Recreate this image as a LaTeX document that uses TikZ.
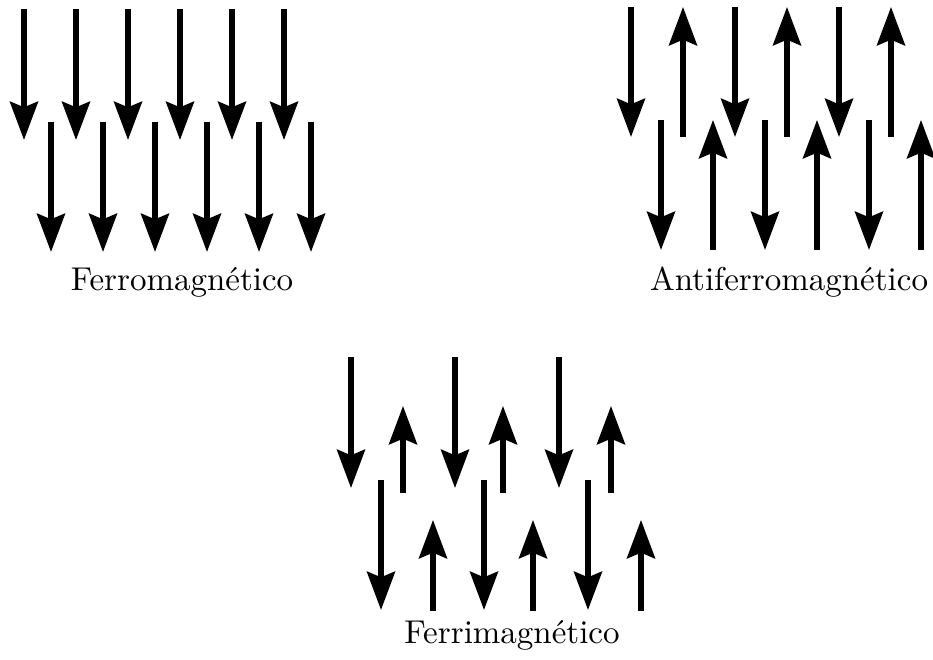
\documentclass[tikz,border=0pt]{standalone}
\usetikzlibrary{arrows.meta}
\begin{document}
\begin{tikzpicture}[x=0.3pt,y=-0.3pt,
  spin/.style={line width=1.55pt,-{Stealth[length=11.5pt,width=8.4pt,inset=1.7pt]}},
  lbl/.style={anchor=base,inner sep=0pt,font=\fontsize{9.9}{12}\selectfont}]
\useasboundingbox (0,0) rectangle (933,660);

% ferromagnetic: all spins down, two staggered rows
\foreach \x in {24,76,128,180,232,284} \draw[spin] (\x,9) -- (\x,140);
\foreach \x in {51,103,155,207,259,311} \draw[spin] (\x,122) -- (\x,252);
\node[lbl] (ferro) at (182,291) {Ferromagn\'etico};

% antiferromagnetic: alternating equal spins
\foreach \x in {631,735,839} \draw[spin] (\x,7) -- (\x,137);
\foreach \x in {683,787,891} \draw[spin] (\x,137) -- (\x,7);
\foreach \x in {661,765,869} \draw[spin] (\x,120) -- (\x,250);
\foreach \x in {713,817,921} \draw[spin] (\x,250) -- (\x,120);
\node[lbl] (antiferro) at (789,291) {Antiferromagn\'etico};

% ferrimagnetic: alternating unequal spins
\foreach \x in {351,455,559} \draw[spin] (\x,357) -- (\x,488);
\foreach \x in {403,503,611} \draw[spin] (\x,493) -- (\x,406);
\foreach \x in {381,484,588} \draw[spin] (\x,480) -- (\x,610);
\foreach \x in {433,533,641} \draw[spin] (\x,611) -- (\x,520);
\node[lbl] (ferri) at (512,644) {Ferrimagn\'etico};
\end{tikzpicture}
\end{document}
